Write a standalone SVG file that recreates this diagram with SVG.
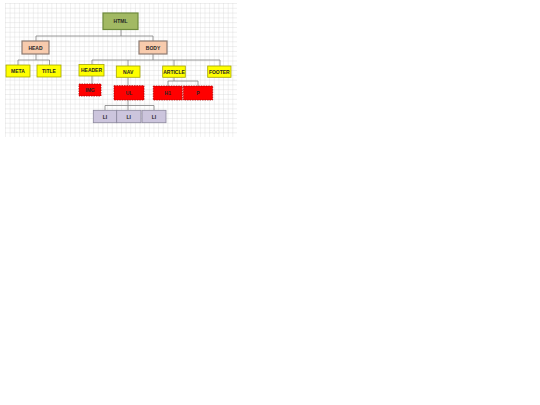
<svg xmlns="http://www.w3.org/2000/svg" width="540" height="405" viewBox="0 0 540 405">
<style>
.lbl{font-family:"Liberation Sans",Arial,sans-serif;font-weight:bold;font-size:5px;fill:#262626;text-anchor:middle;dominant-baseline:central}
.g{fill:#A2B963;stroke:#6E8A3C;stroke-width:1.2}
.pe{fill:#F8CBAD;stroke:#8C7B72;stroke-width:1.2}
.y{fill:#FFFF00;stroke:#A6A600;stroke-width:0.8}
.r{fill:#FF0000;stroke:#B00000;stroke-width:0.8;stroke-dasharray:1.5 1}
.li{fill:#CCC5DD;stroke:#8A869C;stroke-width:0.8}
.con path{fill:none;stroke:#808080;stroke-width:0.8}
</style>
<defs>
<pattern id="grid" x="5" y="3" width="4.64" height="4.79" patternUnits="userSpaceOnUse">
<path d="M0 0V4.79M0 0H4.64" fill="none" stroke="#CDCDCD" stroke-width="0.6"/>
</pattern>
</defs>
<rect width="540" height="405" fill="#FFFFFF"/>
<rect x="5" y="3" width="232" height="134" fill="url(#grid)"/>
<g class="con">
<path d="M121 29.5V36M36 36H153M36 36V41M153 36V41"/>
<path d="M36 54V60M18 60H49.5M18 60V65M49.5 60V65"/>
<path d="M153 54V60M92 60H220M92 60V64.5M128 60V66M174 60V66M220 60V66"/>
<path d="M92 76V84"/>
<path d="M128 77.3V85.7"/>
<path d="M174 77.3V81M168 81H198M168 81V86M198 81V86"/>
<path d="M128 100V105.5M105 105.5H154M105 105.5V110.3M128 105.5V110.3M154 105.5V110.3"/>
</g>
<g id="html"><rect class="g" x="103" y="13" width="35" height="16.5"/><text class="lbl" x="120.5" y="21.3">HTML</text></g>
<g id="head"><rect class="pe" x="22" y="41" width="27" height="13"/><text class="lbl" x="35.5" y="47.5">HEAD</text></g>
<g id="body"><rect class="pe" x="139" y="41" width="28" height="13"/><text class="lbl" x="153" y="47.5">BODY</text></g>
<g id="meta"><rect class="y" x="6" y="65" width="24" height="12"/><text class="lbl" x="18" y="71">META</text></g>
<g id="title"><rect class="y" x="37" y="65" width="24" height="12"/><text class="lbl" x="49" y="71">TITLE</text></g>
<g id="header"><rect class="y" x="79" y="64.5" width="25" height="11.5"/><text class="lbl" x="91.5" y="70.2">HEADER</text></g>
<g id="nav"><rect class="y" x="116.3" y="66" width="23.7" height="11.3"/><text class="lbl" x="128.2" y="71.6">NAV</text></g>
<g id="article"><rect class="y" x="162.7" y="66" width="22.6" height="11.3"/><text class="lbl" x="174" y="71.6">ARTICLE</text></g>
<g id="footer"><rect class="y" x="207.7" y="66" width="23.3" height="11.3"/><text class="lbl" x="219.3" y="71.6">FOOTER</text></g>
<g id="img"><rect class="r" x="79" y="84" width="22" height="12"/><text class="lbl" x="90" y="90">IMG</text></g>
<g id="ul"><rect class="r" x="114" y="85.7" width="30" height="14.3"/><text class="lbl" x="129" y="92.8">UL</text></g>
<g id="h1"><rect class="r" x="153.3" y="86" width="29" height="14"/><text class="lbl" x="167.8" y="93">H1</text></g>
<g id="p"><rect class="r" x="183.3" y="86" width="29.4" height="14"/><text class="lbl" x="198" y="93">P</text></g>
<g id="li1"><rect class="li" x="93.3" y="110.3" width="23.4" height="12.4"/><text class="lbl" x="105" y="116.5">LI</text></g>
<g id="li2"><rect class="li" x="116.7" y="110.3" width="24.3" height="12.4"/><text class="lbl" x="128.8" y="116.5">LI</text></g>
<g id="li3"><rect class="li" x="142" y="110.3" width="24" height="12.4"/><text class="lbl" x="154" y="116.5">LI</text></g>
</svg>
